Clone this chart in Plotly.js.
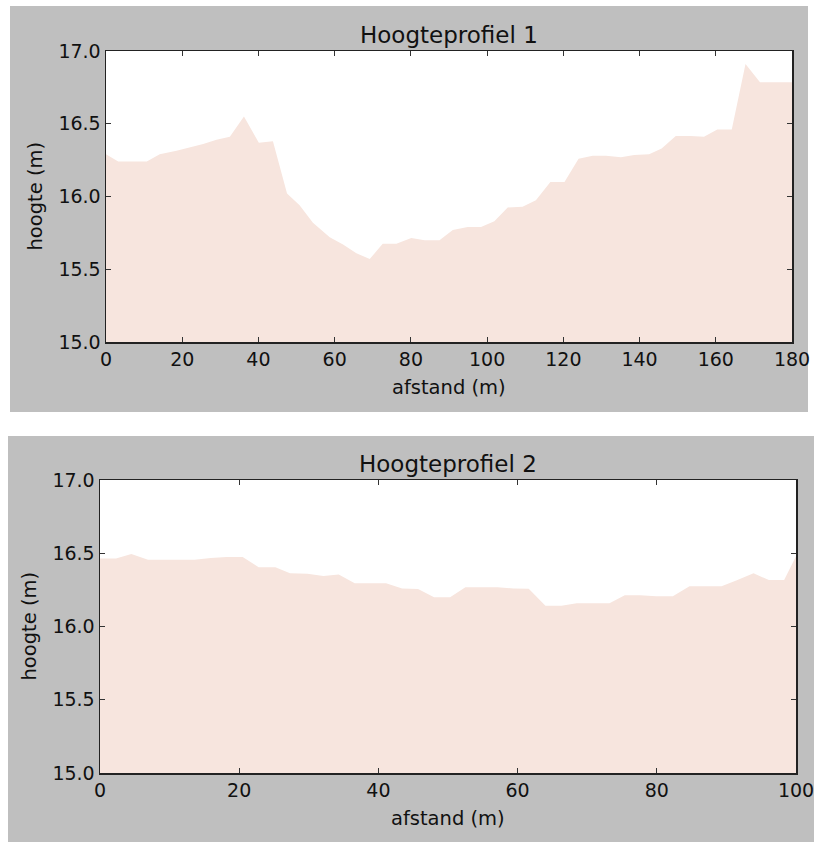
<!DOCTYPE html>
<html><head><meta charset="utf-8">
<script src="https://cdn.plot.ly/plotly-3.0.1.min.js"></script>
<style>html,body{margin:0;padding:0;background:#fff}</style>
</head><body><div id="chart" style="width:814px;height:842px"></div>
<script>
// Hoogteprofiel 1
const afstand1 = [0, 3.2, 10.7, 14.1, 18.5, 22.0, 25.5, 29.0, 32.5, 36.2, 40.1, 43.8, 47.5, 50.8, 54.3, 58.7, 62.2, 65.7, 69.2, 72.6, 76.2, 80.1, 83.6, 87.5, 91.0, 94.9, 98.4, 101.9, 105.4, 109.3, 112.8, 116.6, 120.3, 124.0, 127.7, 131.2, 135.1, 138.6, 142.5, 145.8, 149.5, 153.4, 156.9, 160.4, 164.2, 167.8, 171.6, 180];
const hoogte1 = [16.29, 16.24, 16.24, 16.29, 16.315, 16.335, 16.36, 16.39, 16.41, 16.55, 16.37, 16.38, 16.02, 15.94, 15.82, 15.72, 15.67, 15.61, 15.57, 15.675, 15.675, 15.715, 15.70, 15.70, 15.77, 15.79, 15.79, 15.83, 15.925, 15.93, 15.975, 16.10, 16.10, 16.26, 16.28, 16.28, 16.27, 16.285, 16.29, 16.33, 16.415, 16.415, 16.41, 16.46, 16.46, 16.91, 16.785, 16.785];
// Hoogteprofiel 2
const afstand2 = [0, 2.3, 4.5, 6.9, 13.6, 15.9, 18.2, 20.5, 22.8, 25.2, 27.3, 29.8, 32.1, 34.3, 36.6, 41.1, 43.4, 45.7, 48.0, 50.3, 52.5, 57.1, 59.4, 61.6, 64.0, 66.3, 68.5, 73.2, 75.4, 77.6, 79.9, 82.3, 84.7, 89.3, 91.5, 93.9, 96.1, 98.3, 100];
const hoogte2 = [16.465, 16.465, 16.495, 16.456, 16.456, 16.468, 16.474, 16.474, 16.404, 16.404, 16.363, 16.36, 16.345, 16.355, 16.295, 16.295, 16.26, 16.256, 16.2, 16.2, 16.268, 16.268, 16.26, 16.258, 16.142, 16.142, 16.158, 16.158, 16.213, 16.213, 16.206, 16.206, 16.274, 16.274, 16.315, 16.363, 16.317, 16.317, 16.48];
const titles = ["Hoogteprofiel 1", "Hoogteprofiel 2"];
const xLabel = "afstand (m)";
const yLabel = "hoogte (m)";

const W = 814, H = 842;
const PX = x => x / W;
const PY = y => 1 - y / H;
const FONT = "DejaVu Sans";
const TXT = "#111";
const FILL = "rgb(247,229,222)";

// pixel boxes of the two plot areas
const box1 = {l: 106, r: 792, t: 51, b: 342};
const box2 = {l: 100, r: 796, t: 480, b: 773};

function axisCommon() {
  return {
    showgrid: false, zeroline: false,
    showline: true, linecolor: "#222", linewidth: 1.5, mirror: "ticks",
    ticks: "inside", ticklen: 5, tickwidth: 1, tickcolor: "#333",
    tickfont: {family: FONT, size: 19, color: TXT},
    ticklabeloverflow: "allow",
    fixedrange: true
  };
}

const traces = [
  {x: afstand1, y: hoogte1, xaxis: "x", yaxis: "y", type: "scatter", mode: "lines",
   line: {width: 0, color: FILL}, fill: "tozeroy", fillcolor: FILL, hoverinfo: "skip", showlegend: false},
  {x: afstand2, y: hoogte2, xaxis: "x2", yaxis: "y2", type: "scatter", mode: "lines",
   line: {width: 0, color: FILL}, fill: "tozeroy", fillcolor: FILL, hoverinfo: "skip", showlegend: false}
];

function rect(l, t, r, b, color) {
  return {type: "rect", xref: "paper", yref: "paper", x0: PX(l), x1: PX(r), y0: PY(b), y1: PY(t),
          fillcolor: color, line: {width: 0}, layer: "below"};
}

const layout = {
  width: W, height: H,
  margin: {l: 0, r: 0, t: 0, b: 0, pad: 0},
  paper_bgcolor: "#ffffff", plot_bgcolor: "#ffffff",
  showlegend: false,
  xaxis: Object.assign(axisCommon(), {domain: [PX(box1.l), PX(box1.r)], range: [0, 180], tickvals: [0,20,40,60,80,100,120,140,160,180], anchor: "y"}),
  yaxis: Object.assign(axisCommon(), {domain: [PY(box1.b), PY(box1.t)], range: [15, 17], tickvals: [15,15.5,16,16.5,17], tickformat: ".1f", anchor: "x"}),
  xaxis2: Object.assign(axisCommon(), {domain: [PX(box2.l), PX(box2.r)], range: [0, 100], tickvals: [0,20,40,60,80,100], anchor: "y2"}),
  yaxis2: Object.assign(axisCommon(), {domain: [PY(box2.b), PY(box2.t)], range: [15, 17], tickvals: [15,15.5,16,16.5,17], tickformat: ".1f", anchor: "x2"}),
  shapes: [
    rect(10, 6, 808, 412, "#bfbfbf"),
    rect(8, 436, 814, 842, "#bfbfbf"),
    rect(box1.l, box1.t, box1.r, box1.b, "#ffffff"),
    rect(box2.l, box2.t, box2.r, box2.b, "#ffffff")
  ],
  annotations: [
    {text: titles[0], xref: "paper", yref: "paper", x: PX((box1.l + box1.r) / 2), y: PY(35), xanchor: "center", yanchor: "middle", showarrow: false, font: {family: FONT, size: 23, color: TXT}},
    {text: titles[1], xref: "paper", yref: "paper", x: PX((box2.l + box2.r) / 2), y: PY(464), xanchor: "center", yanchor: "middle", showarrow: false, font: {family: FONT, size: 23, color: TXT}},
    {text: xLabel, xref: "paper", yref: "paper", x: PX((box1.l + box1.r) / 2), y: PY(387), xanchor: "center", yanchor: "middle", showarrow: false, font: {family: FONT, size: 19.5, color: TXT}},
    {text: xLabel, xref: "paper", yref: "paper", x: PX((box2.l + box2.r) / 2), y: PY(818), xanchor: "center", yanchor: "middle", showarrow: false, font: {family: FONT, size: 19.5, color: TXT}},
    {text: yLabel, xref: "paper", yref: "paper", x: PX(35), y: PY((box1.t + box1.b) / 2), xanchor: "center", yanchor: "middle", textangle: -90, showarrow: false, font: {family: FONT, size: 19.5, color: TXT}},
    {text: yLabel, xref: "paper", yref: "paper", x: PX(29), y: PY((box2.t + box2.b) / 2), xanchor: "center", yanchor: "middle", textangle: -90, showarrow: false, font: {family: FONT, size: 19.5, color: TXT}}
  ]
};

Plotly.newPlot("chart", traces, layout, {displayModeBar: false, staticPlot: true});
</script>
</body></html>
